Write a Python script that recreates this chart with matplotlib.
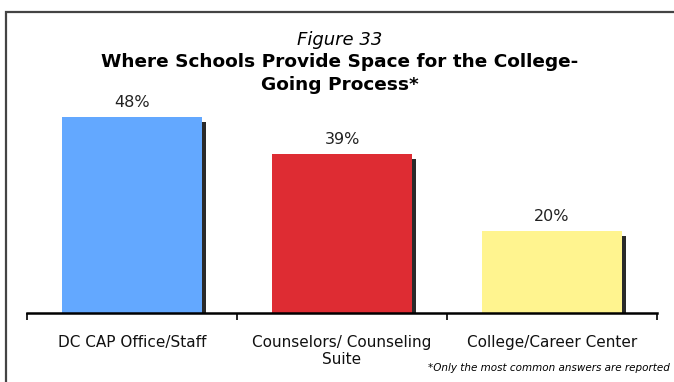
import matplotlib
matplotlib.use("Agg")
import matplotlib.pyplot as plt
import matplotlib.patheffects as pe
from matplotlib.patches import Rectangle

categories = ["DC CAP Office/Staff", "Counselors/ Counseling\nSuite", "College/Career Center"]
values = [48, 39, 20]
colors = ["#63A8FF", "#DE2C33", "#FFF48F"]

W, H = 674, 382
plt.rcParams["font.family"] = ["DejaVu Sans"]
fig = plt.figure(figsize=(W / 100, H / 100), dpi=100)

# outer frame (runs off the right and bottom edges)
fig.patches.append(Rectangle((6 / W, -0.05), 1.0, (H - 12) / H + 0.05,
                             transform=fig.transFigure, fill=False,
                             edgecolor="#444444", linewidth=1.6))

# plot area in pixel coordinates
left, right, bottom_px, ymax = 27, 657, 313, 60
px_per_unit = 4.08
top_px = bottom_px - ymax * px_per_unit
ax = fig.add_axes([left / W, (H - bottom_px) / H, (right - left) / W,
                   (bottom_px - top_px) / H])
ax.set_xlim(-0.5, 2.5)
ax.set_ylim(0, ymax)

x = range(len(values))
bars = ax.bar(x, values, width=0.667, color=colors, zorder=2)
for b in bars:
    b.set_path_effects([pe.SimplePatchShadow(offset=(3, -3.5),
                                             shadow_rgbFace="#2a2a2a", alpha=1.0),
                        pe.Normal()])

for xi, v in zip(x, values):
    ax.text(xi, v + 1.8, f"{v}%", ha="center", va="bottom", fontsize=11.5,
            color="#222222")

for s in ["top", "right", "left"]:
    ax.spines[s].set_visible(False)
ax.spines["bottom"].set_linewidth(1.8)
ax.spines["bottom"].set_zorder(5)
ax.set_yticks([])
ax.set_xticks([-0.5, 0.5, 1.5, 2.5])
ax.set_xticklabels([])
ax.tick_params(axis="x", direction="out", length=5, width=1.2)
for xi, lab in zip(x, categories):
    ax.text(xi, -5.3, lab, ha="center", va="top", fontsize=11,
            linespacing=1.2, color="#111111")

fig.text(340 / W, 1 - 40 / H, "Figure 33", ha="center", va="center",
         fontsize=13, style="italic")
fig.text(340 / W, 1 - 73.5 / H, "Where Schools Provide Space for the College-\nGoing Process*",
         ha="center", va="center", fontsize=13.3, fontweight="bold",
         linespacing=1.35)
fig.text(428 / W, 1 - 368 / H, "*Only the most common answers are reported",
         ha="left", va="center", fontsize=7.5, style="italic")

fig.savefig("out.png", dpi=100)
